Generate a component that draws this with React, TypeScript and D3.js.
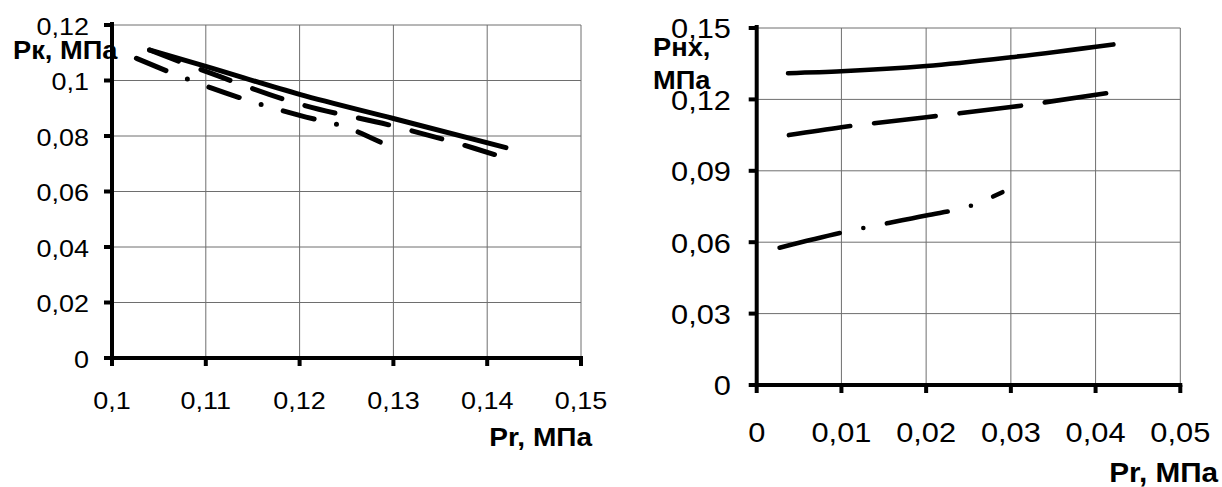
import React, { useRef, useEffect } from 'react';
import * as d3 from 'd3';

// tick values
const leftXTicks = [0.1, 0.11, 0.12, 0.13, 0.14, 0.15];
const leftYTicks = [0, 0.02, 0.04, 0.06, 0.08, 0.1, 0.12];
const rightXTicks = [0, 0.01, 0.02, 0.03, 0.04, 0.05];
const rightYTicks = [0, 0.03, 0.06, 0.09, 0.12, 0.15];

// left chart: Рк vs Pr
const leftSolid = [[0.104, 0.111], [0.11, 0.1051], [0.12, 0.095], [0.13, 0.0863], [0.142, 0.0758]];
const leftDash = [[0.104, 0.111], [0.11, 0.1033], [0.12, 0.0915], [0.13, 0.0836], [0.1387, 0.0755], [0.142, 0.072]];
const leftDashDot = [[0.1026, 0.108], [0.11, 0.098], [0.12, 0.0874], [0.125, 0.0831], [0.1286, 0.0778]];

// right chart: Рнх vs Pr
const rightSolid = [[0.0037, 0.131], [0.01, 0.1318], [0.02, 0.134], [0.03, 0.1377], [0.0421, 0.1431]];
const rightDash = [[0.0038, 0.105], [0.01, 0.1083], [0.02, 0.1125], [0.03, 0.1168], [0.0421, 0.123]];
const rightDashDot = [[0.0027, 0.0577], [0.01, 0.064], [0.02, 0.0712], [0.025, 0.075], [0.029, 0.081]];

const fmt = (v: number) => String(+v.toFixed(3)).replace('.', ',');
const FONT = '"Liberation Sans", Arial, sans-serif';

const App = () => {
  const svgRef = useRef<SVGSVGElement>(null);

  useEffect(() => {
    const svg = d3.select(svgRef.current);
    svg.selectAll('*').remove();

    const addText = (x, y, txt, size, anchor, bold, sx, baseline = 'auto') => {
      svg.append('text')
        .attr('transform', `translate(${x},${y}) scale(${sx},1)`)
        .attr('text-anchor', anchor)
        .attr('dominant-baseline', baseline)
        .style('font-family', FONT)
        .style('font-size', `${size}px`)
        .style('font-weight', bold ? 'bold' : 'normal')
        .style('fill', '#000')
        .text(txt);
    };

    const drawChart = (cfg) => {
      const { x, y, xTicks, yTicks, series, tickSize, tickSx, xLabelY, yLabelX, lw } = cfg;
      const g = svg.append('g');
      const [x0, x1] = x.range();
      const [y0, y1] = y.range();

      // grid
      g.selectAll('.hg').data(yTicks.slice(1)).enter().append('line')
        .attr('x1', x0).attr('x2', x1)
        .attr('y1', d => y(d)).attr('y2', d => y(d))
        .attr('stroke', '#6e6e6e').attr('stroke-width', 1);
      g.selectAll('.vg').data(xTicks.slice(1)).enter().append('line')
        .attr('x1', d => x(d)).attr('x2', d => x(d))
        .attr('y1', y0).attr('y2', y1)
        .attr('stroke', '#6e6e6e').attr('stroke-width', 1);

      // series
      const line = d3.line().x(d => x(d[0])).y(d => y(d[1])).curve(d3.curveMonotoneX);
      series.forEach(s => {
        g.append('path')
          .attr('d', line(s.data))
          .attr('fill', 'none')
          .attr('stroke', '#000')
          .attr('stroke-width', lw)
          .attr('stroke-linecap', 'round')
          .attr('stroke-dasharray', s.dash);
      });

      // axes
      g.append('line').attr('x1', x0).attr('x2', x0).attr('y1', y0 + 2).attr('y2', y1 - 3)
        .attr('stroke', '#000').attr('stroke-width', 4);
      g.append('line').attr('x1', x0 - 2).attr('x2', x1 + 2).attr('y1', y0).attr('y2', y0)
        .attr('stroke', '#000').attr('stroke-width', 4);
      g.selectAll('.yt').data(yTicks).enter().append('line')
        .attr('x1', x0 - 8).attr('x2', x0)
        .attr('y1', d => y(d)).attr('y2', d => y(d))
        .attr('stroke', '#000').attr('stroke-width', 4);
      g.selectAll('.xt').data(xTicks).enter().append('line')
        .attr('x1', d => x(d)).attr('x2', d => x(d))
        .attr('y1', y0).attr('y2', y0 + 8)
        .attr('stroke', '#000').attr('stroke-width', 4);

      yTicks.forEach(t => addText(yLabelX, y(t) + 1, fmt(t), tickSize, 'end', false, tickSx, 'central'));
      xTicks.forEach(t => addText(x(t), xLabelY, fmt(t), tickSize, 'middle', false, tickSx));
    };

    const xL = d3.scaleLinear().domain([0.1, 0.15]).range([112, 581]);
    const yL = d3.scaleLinear().domain([0, 0.12]).range([358, 25]);
    drawChart({
      x: xL, y: yL, xTicks: leftXTicks, yTicks: leftYTicks, tickSize: 24.5, tickSx: 1.1,
      xLabelY: 409, yLabelX: 89, lw: 5,
      series: [
        { data: leftDashDot, dash: '32 23 0 23' },
        { data: leftDash, dash: '31 24' },
        { data: leftSolid, dash: null },
      ],
    });
    addText(13, 59, 'Рк, МПа', 25.5, 'start', true, 1.07);
    addText(592, 446, 'Pr, МПа', 25.5, 'end', true, 1.1);

    const xR = d3.scaleLinear().domain([0, 0.05]).range([756.7, 1180.3]);
    const yR = d3.scaleLinear().domain([0, 0.15]).range([385, 28]);
    drawChart({
      x: xR, y: yR, xTicks: rightXTicks, yTicks: rightYTicks, tickSize: 27.5, tickSx: 1.12,
      xLabelY: 442, yLabelX: 731, lw: 4.6,
      series: [
        { data: rightDashDot, dash: '62 24 0 24' },
        { data: rightDash, dash: '62 24' },
        { data: rightSolid, dash: null },
      ],
    });
    addText(653, 56, 'Рнх,', 25.5, 'start', true, 1.07);
    addText(653, 89, 'МПа', 25.5, 'start', true, 1.07);
    addText(1218, 482, 'Pr, МПа', 27, 'end', true, 1.1);
  }, []);

  return (
    <svg
      ref={svgRef}
      width={1222}
      height={487}
      viewBox="0 0 1222 487"
      style={{ position: 'absolute', left: 0, top: 0, background: '#fff' }}
    />
  );
};

export default App;
